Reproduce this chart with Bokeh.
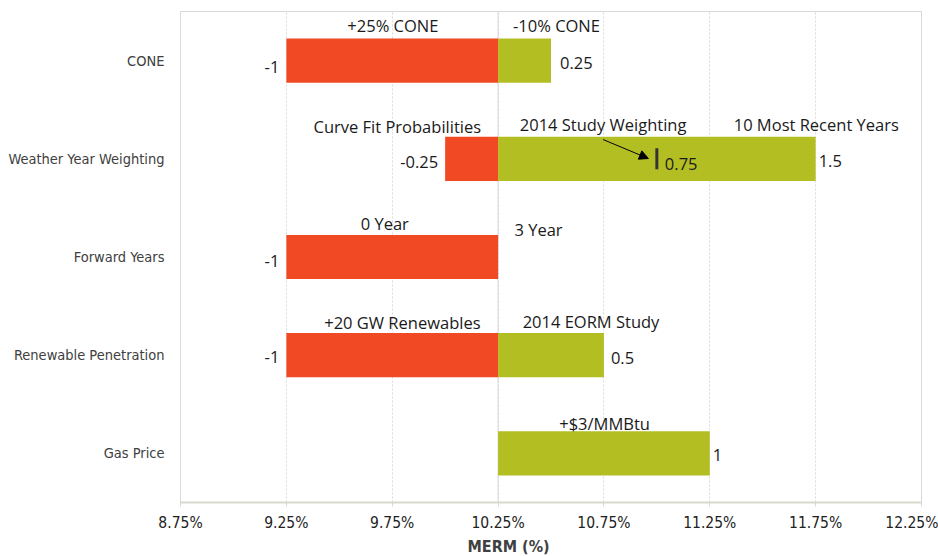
from bokeh.plotting import figure
from bokeh.models import FixedTicker, ColumnDataSource, Arrow, NormalHead, Range1d, Title
from bokeh.embed import file_html
from bokeh.resources import INLINE
from bokeh.core.properties import value

# ---- data ----
categories = ["CONE", "Weather Year Weighting", "Forward Years", "Renewable Penetration", "Gas Price"]
base = 10.25
low_change = [-1.0, -0.25, -1.0, -1.0, 0.0]
high_change = [0.25, 1.5, 0.0, 0.5, 1.0]
low_labels = ["+25% CONE", "Curve Fit Probabilities", "0 Year", "+20 GW Renewables", ""]
high_labels = ["-10% CONE", "10 Most Recent Years", "3 Year", "2014 EORM Study", "+$3/MMBtu"]
low_value_text = ["-1", "-0.25", "-1", "-1", ""]
high_value_text = ["0.25", "1.5", "", "0.5", "1"]
study_weighting = 0.75
study_label = "2014 Study Weighting"
x_ticks = [8.75, 9.25, 9.75, 10.25, 10.75, 11.25, 11.75, 12.25]
x_tick_labels = ["8.75%", "9.25%", "9.75%", "10.25%", "10.75%", "11.25%", "11.75%", "12.25%"]
x_title = "MERM (%)"

RED = "#F04924"
GREEN = "#B3BE23"
n = len(categories)
ypos = [n - i for i in range(n)]  # CONE at top

p = figure(width=938, height=556, output_backend="svg", toolbar_location=None,
           x_range=Range1d(8.75, 12.25), y_range=Range1d(0.5, n + 0.5),
           min_border_left=180, min_border_right=17, min_border_top=11, min_border_bottom=54)
p.background_fill_color = "white"
p.border_fill_color = "white"
p.outline_line_color = "#D9D9D9"
p.outline_line_width = 1

# grid
p.ygrid.grid_line_color = None
p.xgrid.ticker = FixedTicker(ticks=x_ticks)
p.xgrid.grid_line_color = "#D9D9D9"
p.xgrid.grid_line_dash = "2 2"
p.xgrid.grid_line_width = 1

# base line
p.segment(x0=[base], x1=[base], y0=[0.5], y1=[n + 0.5], line_color="#D9D9D9", line_width=1)

# bars
low_src = ColumnDataSource(dict(y=ypos, left=[base + v for v in low_change], right=[base] * n))
high_src = ColumnDataSource(dict(y=ypos, left=[base] * n, right=[base + v for v in high_change]))
p.hbar(y="y", left="left", right="right", height=0.45, source=low_src, fill_color=RED, line_color=None)
p.hbar(y="y", left="left", right="right", height=0.45, source=high_src, fill_color=GREEN, line_color=None)

# study weighting marker
wy = ypos[1]
p.segment(x0=[base + study_weighting], x1=[base + study_weighting], y0=[wy - 0.107], y1=[wy + 0.107],
          line_color="#333333", line_width=3)
p.add_layout(Arrow(end=NormalHead(size=9, fill_color="black", line_color="black"),
                   x_start=base + study_weighting - 0.254, y_start=wy + 0.196,
                   x_end=base + study_weighting - 0.04, y_end=wy + 0.003,
                   line_color="black", line_width=1))

FONT = value("Open Sans")
TXT = "#1A1A1A"
FS = "16.5px"

# annotation labels above bars (x centers estimated)
low_label_x = [9.753, 9.774, 9.715, 9.798, 0]
high_label_x = [10.526, 11.753, 10.441, 10.689, 10.753]
low_label_dy = [0.357, 0.33, 0.346, 0.336, 0]
high_label_dy = [0.357, 0.345, 0.285, 0.345, 0.305]
lx, ly, lt = [], [], []
for i in range(n):
    if low_labels[i]:
        lx.append(low_label_x[i]); ly.append(ypos[i] + low_label_dy[i]); lt.append(low_labels[i])
    if high_labels[i]:
        lx.append(high_label_x[i]); ly.append(ypos[i] + high_label_dy[i]); lt.append(high_labels[i])
lx.append(10.746); ly.append(wy + 0.345); lt.append(study_label)
p.text(x=lx, y=ly, text=lt, text_align="center", text_baseline="middle",
       text_font=FONT, text_font_size=FS, text_color=TXT)

# value labels
vx, vy, vt, va, vo = [], [], [], [], []
low_dy = [-0.07, -0.03, -0.04, -0.02, 0]
high_dy = [-0.02, -0.02, 0, -0.03, -0.02]
high_off = [9, 3, 0, 7, 3]
for i in range(n):
    if low_value_text[i]:
        vx.append(base + low_change[i]); vy.append(ypos[i] + low_dy[i]); vt.append(low_value_text[i])
        va.append("right"); vo.append(-7)
    if high_value_text[i]:
        vx.append(base + high_change[i]); vy.append(ypos[i] + high_dy[i]); vt.append(high_value_text[i])
        va.append("left"); vo.append(high_off[i])
vx.append(base + study_weighting); vy.append(wy - 0.05); vt.append(f"{study_weighting}"); va.append("left"); vo.append(8)
vsrc = ColumnDataSource(dict(x=vx, y=vy, text=vt, align=va, off=vo))
p.text(x="x", y="y", text="text", text_align="align", x_offset="off", text_baseline="middle",
       source=vsrc, text_font=FONT, text_font_size=FS, text_color=TXT)

AXF = "DejaVu Sans Condensed"
# axes
p.xaxis.ticker = FixedTicker(ticks=x_ticks)
p.xaxis.major_label_overrides = {t: l for t, l in zip(x_ticks, x_tick_labels)}
p.xaxis.axis_line_color = "#D9D9D0"
p.xaxis.axis_line_width = 2
p.xaxis.major_tick_line_color = "#D9D9D0"
p.xaxis.major_tick_out = 4
p.xaxis.major_tick_in = 0
p.xaxis.minor_tick_line_color = None
p.xaxis.major_label_text_font = AXF
p.xaxis.major_label_text_font_size = "15.5px"
p.xaxis.major_label_text_color = "#222222"
p.xaxis.major_label_standoff = 7

# axis title, placed slightly left of centre as in the original
p.add_layout(Title(text=x_title, align="left", offset=287, standoff=0,
                   text_font=AXF, text_font_style="bold", text_font_size="16px",
                   text_color="#404040"), "below")

p.yaxis.ticker = FixedTicker(ticks=ypos)
p.yaxis.major_label_overrides = {y: c for y, c in zip(ypos, categories)}
p.yaxis.axis_line_color = "#D9D9D9"
p.yaxis.major_tick_line_color = None
p.yaxis.minor_tick_line_color = None
p.yaxis.major_label_text_font = AXF
p.yaxis.major_label_text_font_size = "14.5px"
p.yaxis.major_label_text_color = "#404040"
p.yaxis.major_label_standoff = 10

open("out.html", "w").write(file_html(p, INLINE))
